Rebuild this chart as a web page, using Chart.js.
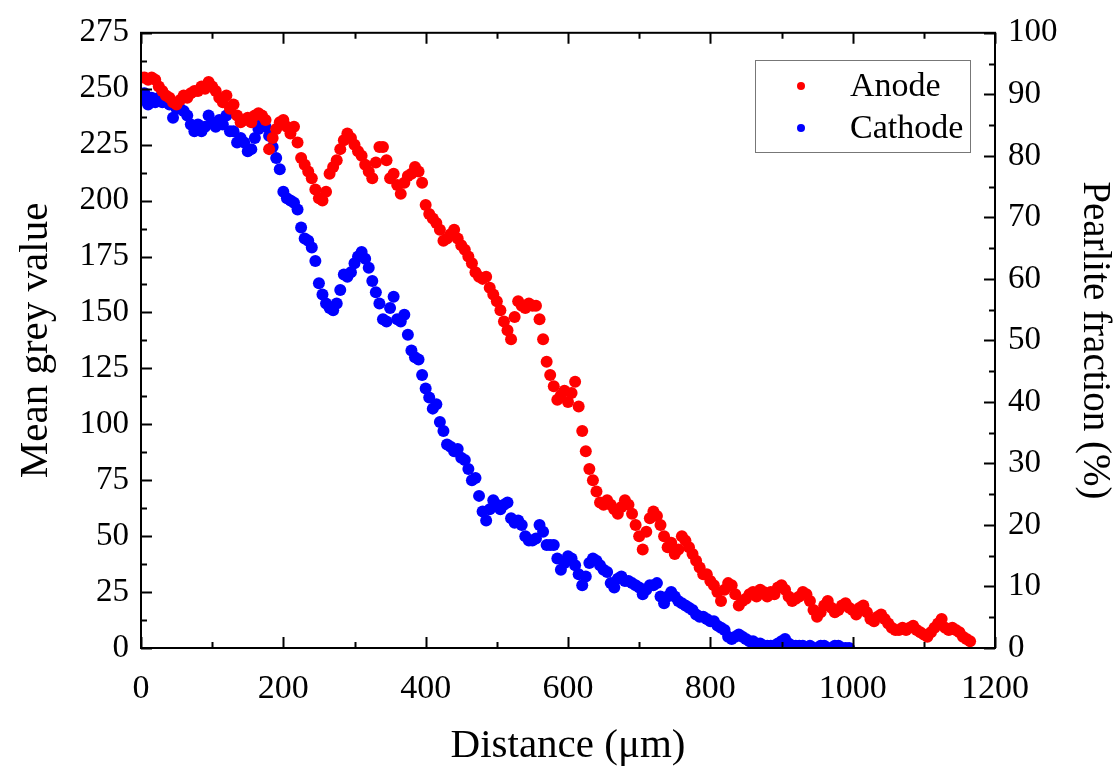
<!DOCTYPE html>
<html>
<head>
<meta charset="utf-8">
<script src="https://cdn.jsdelivr.net/npm/chart.js@4.4.1/dist/chart.umd.min.js"></script>
<style>
    html, body { margin: 0; padding: 0; background: #fff; }
    #wrap { width: 1118px; height: 771px; }
</style>
</head>
<body>
<div id="wrap"><canvas id="chart" width="1118" height="771"></canvas></div>
<script>
// readings every 5 µm, starting at 0
const distanceStep = 5;

const anodeGrey = [
    255, 255, 254, 255, 254, 251, 249, 247, 246, 244, 243, 245, 247, 246, 248, 249, 249, 251, 250, 253,
    251, 249, 246, 244, 247, 241, 243, 238, 235, 236, 237, 235, 238, 239, 238, 236, 223, 228, 232, 235,
    236, 233, 230, 233, 226, 219, 216, 213, 210, 205, 201, 200, 204, 212, 215, 218, 223, 227, 230, 228,
    225, 222, 220, 216, 213, 210, 217, 224, 224, 218, 210, 212, 207, 203, 208, 211, 212, 215, 213, 208,
    198, 194, 192, 190, 187, 182, 183, 185, 187, 183, 180, 178, 175, 172, 168, 166, 165, 166, 161, 158,
    155, 151, 146, 142, 138, 148, 155, 153, 152, 154, 153, 153, 147, 138, 128, 122, 117, 111, 113, 115,
    110, 114, 119, 108, 97, 88, 80, 75, 70, 65, 64, 66, 64, 62, 60, 63, 66, 64, 60, 55,
    50, 44, 52, 58, 61, 59, 55, 50, 45, 47, 42, 44, 50, 48, 45, 42, 39, 36, 33, 33,
    30, 28, 25, 21, 26, 29, 28, 24, 19, 21, 22, 24, 25, 23, 26, 25, 23, 25, 24, 27,
    28, 26, 23, 21, 22, 23, 25, 24, 21, 17, 14, 16, 19, 21, 18, 16, 17, 19, 20, 18,
    17, 15, 18, 19, 16, 13, 12, 14, 15, 13, 11, 9, 8, 8, 9, 8, 9, 10, 8, 7,
    6, 5, 7, 9, 11, 13, 9, 8, 9, 8, 7, 5, 4, 3
];

const cathodeGrey = [
    245, 248, 243, 246, 244, 246, 244, 245, 243, 237, 241, 241, 240, 238, 234, 231, 234, 231, 233, 238,
    235, 233, 236, 234, 238, 231, 231, 226, 228, 226, 222, 223, 228, 232, 235, 233, 229, 224, 219, 214,
    204, 201, 200, 199, 196, 188, 183, 182, 179, 173, 163, 158, 154, 152, 151, 154, 160, 167, 166, 168,
    172, 175, 177, 174, 170, 164, 159, 154, 147, 146, 152, 157, 147, 146, 149, 140, 133, 130, 129, 122,
    116, 112, 107, 109, 101, 97, 91, 90, 88, 89, 85, 84, 80, 75, 76, 68, 61, 57, 62, 66,
    64, 62, 64, 65, 58, 56, 57, 55, 50, 48, 48, 49, 55, 52, 46, 46, 46, 40, 35, 38,
    41, 40, 37, 33, 28, 32, 38, 40, 39, 37, 35, 34, 29, 27, 31, 32, 30, 30, 29, 28,
    27, 24, 26, 28, 28, 29, 23, 20, 23, 25, 23, 21, 20, 19, 18, 17, 15, 14, 14, 13,
    12, 12, 10, 9, 8, 5, 4, 5, 6, 5, 4, 3, 3, 2, 2, 1, 1, 1, 1, 2,
    3, 4, 2, 1, 1, 1, 1, 0, 1, 0, 0, 1, 1, 0, 0, 1, 1, 0, 0, 0
];

const distanceTicks = [0, 200, 400, 600, 800, 1000, 1200];
const greyTicks = [0, 25, 50, 75, 100, 125, 150, 175, 200, 225, 250, 275];
const fractionTicks = [0, 10, 20, 30, 40, 50, 60, 70, 80, 90, 100];

const serif = '"Liberation Serif", "Times New Roman", serif';

function toPoints(values) {
    return values.map(function (v, i) {
        return { x: i * distanceStep, y: v };
    });
}

function plainLabel(value) {
    return String(value);
}

// frame + inward tick marks (major and minor) on all four sides
const frameTicks = {
    id: 'frameTicks',
    afterDraw(chart) {
        const ctx = chart.ctx;
        const a = chart.chartArea;
        const sx = chart.scales.x, sy = chart.scales.y, sy2 = chart.scales.y2;
        ctx.save();
        ctx.strokeStyle = '#000';
        ctx.lineWidth = 2;
        ctx.strokeRect(a.left, a.top, a.right - a.left, a.bottom - a.top);
        ctx.beginPath();
        for (let v = 0; v <= 1200; v += 100) {
            const len = v % 200 === 0 ? 11 : 6;
            const px = Math.round(sx.getPixelForValue(v)) + 0.5;
            ctx.moveTo(px, a.bottom); ctx.lineTo(px, a.bottom - len);
            ctx.moveTo(px, a.top); ctx.lineTo(px, a.top + len);
        }
        for (let v = 0; v <= 275; v += 12.5) {
            const len = v % 25 === 0 ? 11 : 6;
            const py = Math.round(sy.getPixelForValue(v)) + 0.5;
            ctx.moveTo(a.left, py); ctx.lineTo(a.left + len, py);
        }
        for (let v = 0; v <= 100; v += 5) {
            const len = v % 10 === 0 ? 11 : 6;
            const py = Math.round(sy2.getPixelForValue(v)) + 0.5;
            ctx.moveTo(a.right, py); ctx.lineTo(a.right - len, py);
        }
        ctx.stroke();
        ctx.restore();
    }
};

// boxed legend in the upper right of the plot
const boxLegend = {
    id: 'boxLegend',
    afterDraw(chart) {
        const ctx = chart.ctx;
        ctx.save();
        ctx.fillStyle = '#fff';
        ctx.fillRect(755, 60, 215, 92);
        ctx.strokeStyle = '#777';
        ctx.lineWidth = 1;
        ctx.strokeRect(755.5, 60.5, 215, 92);
        ctx.font = '34px ' + serif;
        ctx.textBaseline = 'middle';
        chart.data.datasets.forEach(function (ds, i) {
            const y = 86 + i * 42;
            ctx.fillStyle = ds.backgroundColor;
            ctx.beginPath();
            ctx.arc(801, y, 4, 0, Math.PI * 2);
            ctx.fill();
            ctx.fillStyle = '#000';
            ctx.fillText(ds.label, 850, y + 1);
        });
        ctx.restore();
    }
};

new Chart(document.getElementById('chart').getContext('2d'), {
    type: 'scatter',
    data: {
        datasets: [{
            label: 'Anode',
            data: toPoints(anodeGrey),
            backgroundColor: '#ff0000',
            borderColor: '#ff0000',
            pointRadius: 6,
            borderWidth: 0
        }, {
            label: 'Cathode',
            data: toPoints(cathodeGrey),
            backgroundColor: '#0000ff',
            borderColor: '#0000ff',
            pointRadius: 6,
            borderWidth: 0
        }]
    },
    options: {
        responsive: false,
        animation: false,
        layout: { padding: { top: 29 } },
        plugins: {
            legend: { display: false },
            tooltip: { enabled: false }
        },
        scales: {
            x: {
                type: 'linear',
                position: 'bottom',
                min: 0,
                max: 1200,
                afterBuildTicks: function (s) { s.ticks = distanceTicks.map(function (v) { return { value: v }; }); },
                afterFit: function (s) { s.height = 123; },
                grid: { display: false, drawTicks: false },
                border: { display: false },
                ticks: { color: '#000', padding: 21, callback: plainLabel, font: { family: serif, size: 34 } },
                title: {
                    display: true,
                    text: 'Distance (μm)',
                    color: '#000',
                    padding: { top: 0, bottom: 0 },
                    font: { family: serif, size: 41, lineHeight: 1.2 }
                }
            },
            y: {
                type: 'linear',
                position: 'left',
                min: 0,
                max: 275,
                afterBuildTicks: function (s) { s.ticks = greyTicks.map(function (v) { return { value: v }; }); },
                afterFit: function (s) { s.width = 141; },
                grid: { display: false, drawTicks: false },
                border: { display: false },
                ticks: { color: '#000', padding: 12, callback: plainLabel, font: { family: serif, size: 33 } },
                title: {
                    display: true,
                    text: 'Mean grey value',
                    color: '#000',
                    padding: { top: 12, bottom: 0 },
                    font: { family: serif, size: 41, lineHeight: 1.2 }
                }
            },
            y2: {
                type: 'linear',
                position: 'right',
                min: 0,
                max: 100,
                afterBuildTicks: function (s) { s.ticks = fractionTicks.map(function (v) { return { value: v }; }); },
                afterFit: function (s) { s.width = 123; },
                grid: { display: false, drawTicks: false },
                border: { display: false },
                ticks: { color: '#000', padding: 13, callback: plainLabel, font: { family: serif, size: 33 } },
                title: {
                    display: true,
                    text: 'Pearlite fraction (%)',
                    color: '#000',
                    padding: { top: 0, bottom: 0 },
                    font: { family: serif, size: 39, lineHeight: 1.2 }
                }
            }
        }
    },
    plugins: [frameTicks, boxLegend]
});
</script>
</body>
</html>
